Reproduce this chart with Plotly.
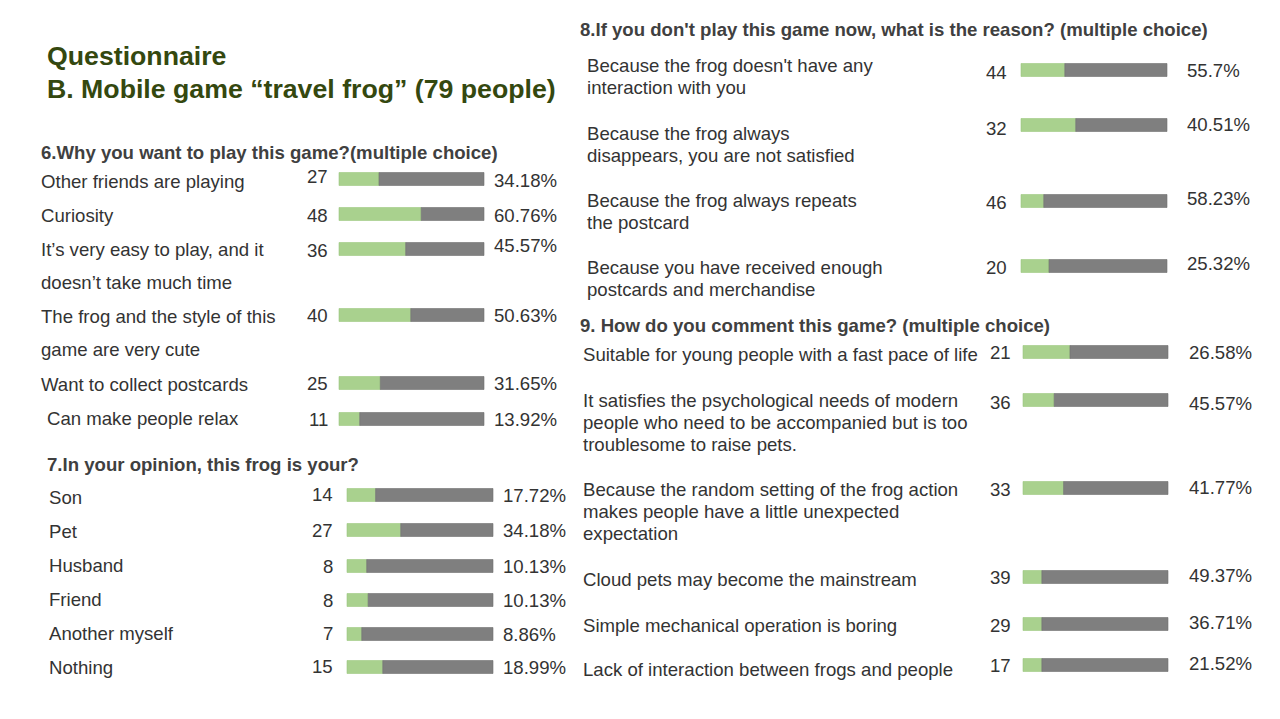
import plotly.graph_objects as go

# ---------------- data ----------------
title_lines = ["Questionnaire", "B. Mobile game \u201ctravel frog\u201d (79 people)"]

q6_title = "6.Why you want to play this game?(multiple choice)"
q6_labels = ["Other friends are playing", "Curiosity",
             "It\u2019s very easy to play, and it\ndoesn\u2019t take much time",
             "The frog and the style of this\ngame are very cute",
             "Want to collect postcards", "Can make people relax"]
q6_counts = [27, 48, 36, 40, 25, 11]
q6_pcts = ["34.18%", "60.76%", "45.57%", "50.63%", "31.65%", "13.92%"]
q6_green = [27.6, 56.7, 46.0, 49.5, 28.5, 14.3]   # green share of each drawn bar (%)

q7_title = "7.In your opinion, this frog is your?"
q7_labels = ["Son", "Pet", "Husband", "Friend", "Another myself", "Nothing"]
q7_counts = [14, 27, 8, 8, 7, 15]
q7_pcts = ["17.72%", "34.18%", "10.13%", "10.13%", "8.86%", "18.99%"]
q7_green = [19.6, 36.8, 13.5, 14.5, 10.1, 24.5]

q8_title = "8.If you don't play this game now, what is the reason? (multiple choice)"
q8_labels = ["Because the frog doesn't have any\ninteraction with you",
             "Because the frog always\ndisappears, you are not satisfied",
             "Because the frog always repeats\nthe postcard",
             "Because you have received enough\npostcards and merchandise"]
q8_counts = [44, 32, 46, 20]
q8_pcts = ["55.7%", "40.51%", "58.23%", "25.32%"]
q8_green = [30.0, 37.5, 15.6, 19.2]

q9_title = "9. How do you comment this game? (multiple choice)"
q9_labels = ["Suitable for young people with a fast pace of life",
             "It satisfies the psychological needs of modern\npeople who need to be accompanied but is too\ntroublesome to raise pets.",
             "Because the random setting of the frog action\nmakes people have a little unexpected\nexpectation",
             "Cloud pets may become the mainstream",
             "Simple mechanical operation is boring",
             "Lack of interaction between frogs and people"]
q9_counts = [21, 36, 33, 39, 29, 17]
q9_pcts = ["26.58%", "45.57%", "41.77%", "49.37%", "36.71%", "21.52%"]
q9_green = [32.4, 21.5, 28.0, 13.0, 13.0, 13.0]

# ---------------- layout (pixel canvas) ----------------
W, H = 1280, 719
GREEN = "#A9D18E"
GREY = "#7F7F7F"
TXT = "#333333"
HEAD = "#404040"
TITLE_C = "#34480F"
FONT = "Liberation Sans, Arial, sans-serif"
PAD = 2  # annotation inner padding compensation

sections = [
    dict(title=q6_title, title_xy=(41, 152), labels=q6_labels, counts=q6_counts, pcts=q6_pcts,
         green=q6_green, label_x=[41, 41, 41, 41, 41, 47], label_y=[181, 215, 249, 316, 384, 418],
         line_gap=33.5, bar_y=[179, 214, 249, 315, 383, 419], bar_x=(339, 484),
         count_x=328, pct_x=494,
         count_y=[176, 215, 250, 315, 383, 419], pct_y=[180, 215, 245, 315, 383, 419]),
    dict(title=q7_title, title_xy=(47, 464), labels=q7_labels, counts=q7_counts, pcts=q7_pcts,
         green=q7_green, label_x=[49] * 6, label_y=[497, 531, 565, 599, 633, 667],
         line_gap=22, bar_y=[495, 530, 566, 600, 634, 667], bar_x=(347, 493),
         count_x=333, pct_x=503,
         count_y=[494, 530, 566, 600, 633, 666], pct_y=[495, 530, 566, 600, 634, 667]),
    dict(title=q8_title, title_xy=(580, 29), labels=q8_labels, counts=q8_counts, pcts=q8_pcts,
         green=q8_green, label_x=[587] * 4, label_y=[65, 133, 200, 267],
         line_gap=22.5, bar_y=[70, 125, 201, 266], bar_x=(1021, 1167),
         count_x=1007, pct_x=1187,
         count_y=[72, 128, 202, 267], pct_y=[70, 124, 198, 263]),
    dict(title=q9_title, title_xy=(580, 325), labels=q9_labels, counts=q9_counts, pcts=q9_pcts,
         green=q9_green, label_x=[583] * 6, label_y=[354, 400, 489, 579, 625, 669],
         line_gap=22.3, bar_y=[352, 400, 488, 577, 624, 665], bar_x=(1023, 1168),
         count_x=1011, pct_x=1189,
         count_y=[352, 402, 489, 577, 625, 665], pct_y=[352, 403, 487, 575, 622, 663]),
]

BAR_H = 13
FS = 18.6
HEAD_FS = 18.6
TITLE_FS = 26.7

gy, gb, gx = [], [], []
ry, rb, rx = [], [], []
annotations = []

def add_text(x, y, text, size, color, anchor="left", bold=False):
    x = x - PAD if anchor == "left" else x + PAD
    annotations.append(dict(
        x=x, y=y, xref="x", yref="y", text=f"<b>{text}</b>" if bold else text,
        showarrow=False, xanchor=anchor, yanchor="middle",
        font=dict(family=FONT, size=size, color=color)))

# title
add_text(47, 56, title_lines[0], TITLE_FS, TITLE_C, bold=True)
add_text(47, 89, title_lines[1], TITLE_FS, TITLE_C, bold=True)

for s in sections:
    add_text(s["title_xy"][0], s["title_xy"][1], s["title"], HEAD_FS, HEAD, bold=True)
    x0, x1 = s["bar_x"]
    bw = x1 - x0
    for i, lab in enumerate(s["labels"]):
        for j, line in enumerate(lab.split("\n")):
            add_text(s["label_x"][i], s["label_y"][i] + j * s["line_gap"], line, FS, TXT)
        yb = s["bar_y"][i]
        add_text(s["count_x"], s["count_y"][i], str(s["counts"][i]), FS, TXT, anchor="right")
        add_text(s["pct_x"], s["pct_y"][i], s["pcts"][i], FS, TXT)
        g = s["green"][i] / 100.0 * bw
        gy.append(yb); gb.append(x0); gx.append(g)
        ry.append(yb); rb.append(x0 + g); rx.append(bw - g)

fig = go.Figure()
fig.add_trace(go.Bar(orientation="h", y=gy, x=gx, base=gb, width=BAR_H,
                     marker=dict(color=GREEN, line=dict(color="#9CC77F", width=0.6)),
                     hoverinfo="skip", showlegend=False))
fig.add_trace(go.Bar(orientation="h", y=ry, x=rx, base=rb, width=BAR_H,
                     marker=dict(color=GREY, line=dict(color="#6F6F6F", width=0.6)),
                     hoverinfo="skip", showlegend=False))

fig.update_layout(
    width=W, height=H, margin=dict(l=0, r=0, t=0, b=0),
    paper_bgcolor="white", plot_bgcolor="white",
    barmode="overlay",
    xaxis=dict(range=[0, W], visible=False, fixedrange=True),
    yaxis=dict(range=[H, 0], visible=False, fixedrange=True),
    annotations=annotations,
)

fig.write_html("out.html")
